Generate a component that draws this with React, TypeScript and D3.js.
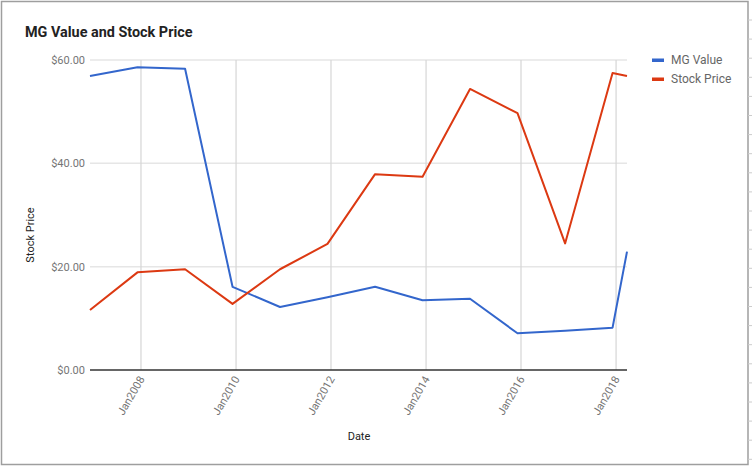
import * as d3 from 'd3';
import { useEffect, useRef } from 'react';

// fiscal-year points (last one is the current partial year)
const dates = [
  '2006-12-05', '2007-12-05', '2008-12-05', '2009-12-05', '2010-12-05',
  '2011-12-05', '2012-12-05', '2013-12-05', '2014-12-05', '2015-12-05',
  '2016-12-05', '2017-12-05', '2018-03-26',
];
const mgValue = [56.9, 58.6, 58.3, 16.1, 12.2, 14.1, 16.1, 13.5, 13.8, 7.1, 7.6, 8.2, 22.9];
const stockPrice = [11.6, 18.9, 19.5, 12.8, 19.5, 24.4, 37.9, 37.4, 54.4, 49.7, 24.5, 57.5, 56.9];
const yTicks = [0, 20, 40, 60];
const xTickYears = [2008, 2010, 2012, 2014, 2016, 2018];
const seriesNames = ['MG Value', 'Stock Price'];
const seriesColors = ['#3366cc', '#dc3912'];

const W = 752;
const H = 467;
const FONT = 'Roboto, Arial, sans-serif';

export default function App() {
  const ref = useRef<SVGSVGElement>(null);

  useEffect(() => {
    if (!ref.current) return;
    const svg = d3.select(ref.current);
    svg.selectAll('*').remove();

    const parse = d3.timeParse('%Y-%m-%d');
    const xs = dates.map((d) => parse(d) as Date);
    const left = 90;
    const right = 627;
    const top = 60;
    const bottom = 370;

    const x = d3.scaleTime().domain([xs[0], xs[xs.length - 1]]).range([left, right]);
    const y = d3.scaleLinear().domain([0, 60]).range([bottom, top]);

    svg.append('rect').attr('width', W).attr('height', H).attr('fill', '#fff');

    // frame of the screenshot
    svg.append('rect')
      .attr('x', 1.5).attr('y', 1.5).attr('width', 746.5).attr('height', 463)
      .attr('fill', 'none').attr('stroke', '#9e9e9e').attr('stroke-width', 1.5);
    svg.append('g')
      .selectAll('line')
      .data(d3.range(20, H, 19.1))
      .join('line')
      .attr('x1', 748).attr('x2', W)
      .attr('y1', (d) => d).attr('y2', (d) => d)
      .attr('stroke', '#ccc');

    // title
    svg.append('text')
      .attr('x', 25).attr('y', 37)
      .attr('font-family', FONT).attr('font-size', 14.4).attr('font-weight', 700)
      .attr('fill', '#222')
      .text('MG Value and Stock Price');

    // horizontal grid
    svg.append('g')
      .selectAll('line')
      .data(yTicks.filter((t) => t > 0))
      .join('line')
      .attr('x1', left).attr('x2', right)
      .attr('y1', (d) => y(d)).attr('y2', (d) => y(d))
      .attr('stroke', '#e6e6e6').attr('stroke-width', 1.5);

    // vertical grid
    const xTickDates = xTickYears.map((yr) => new Date(yr, 0, 1));
    svg.append('g')
      .selectAll('line')
      .data(xTickDates)
      .join('line')
      .attr('x1', (d) => x(d)).attr('x2', (d) => x(d))
      .attr('y1', top).attr('y2', bottom)
      .attr('stroke', '#d6d6d6').attr('stroke-width', 1.2);

    // baseline
    svg.append('line')
      .attr('x1', left).attr('x2', right)
      .attr('y1', bottom).attr('y2', bottom)
      .attr('stroke', '#333').attr('stroke-width', 1.5);

    // y labels
    svg.append('g')
      .selectAll('text')
      .data(yTicks)
      .join('text')
      .attr('x', 85).attr('y', (d) => y(d))
      .attr('dy', '0.35em')
      .attr('text-anchor', 'end')
      .attr('font-family', FONT).attr('font-size', 11)
      .attr('fill', '#757575')
      .text((d) => d3.format('$.2f')(d));

    // x labels
    const fmt = d3.timeFormat('%b%Y');
    svg.append('g')
      .selectAll('text')
      .data(xTickDates)
      .join('text')
      .attr('transform', (d) => `translate(${x(d) + 4},${bottom + 9}) rotate(-60)`)
      .attr('text-anchor', 'end')
      .attr('font-family', FONT).attr('font-size', 11)
      .attr('fill', '#757575')
      .text((d) => fmt(d));

    // axis titles
    svg.append('text')
      .attr('x', 359).attr('y', 440)
      .attr('text-anchor', 'middle')
      .attr('font-family', FONT).attr('font-size', 11)
      .attr('fill', '#222')
      .text('Date');
    svg.append('text')
      .attr('transform', 'translate(34,235) rotate(-90)')
      .attr('text-anchor', 'middle')
      .attr('font-family', FONT).attr('font-size', 11)
      .attr('fill', '#222')
      .text('Stock Price');

    // lines
    const line = d3.line<number>()
      .x((_, i) => x(xs[i]))
      .y((d) => y(d));
    [mgValue, stockPrice].forEach((s, i) => {
      svg.append('path')
        .attr('d', line(s) || '')
        .attr('fill', 'none')
        .attr('stroke', seriesColors[i])
        .attr('stroke-width', 2)
        .attr('stroke-linejoin', 'round');
    });

    // legend
    const lg = svg.append('g').attr('transform', 'translate(652,60)');
    seriesNames.forEach((name, i) => {
      lg.append('rect')
        .attr('x', 0).attr('y', i * 19 - 1.5)
        .attr('width', 12).attr('height', 3.5)
        .attr('fill', seriesColors[i]);
      lg.append('text')
        .attr('x', 19).attr('y', i * 19)
        .attr('dy', '0.35em')
        .attr('font-family', FONT).attr('font-size', 12)
        .attr('fill', '#666')
        .text(name);
    });
  }, []);

  return (
    <svg
      ref={ref}
      width={W}
      height={H}
      style={{ position: 'absolute', left: 0, top: 0, display: 'block' }}
    />
  );
}
